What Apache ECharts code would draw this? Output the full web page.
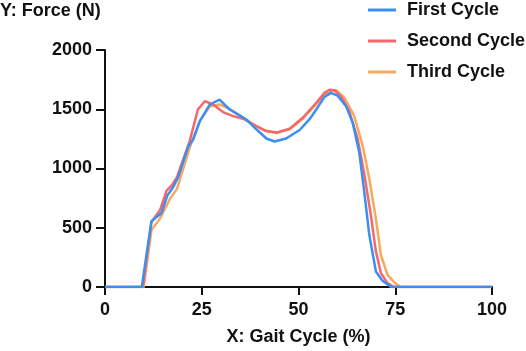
<!DOCTYPE html>
<html>
<head>
<meta charset="utf-8">
<script src="https://cdn.jsdelivr.net/npm/echarts@6/dist/echarts.min.js"></script>
<style>
  html, body { margin: 0; padding: 0; background: #fff; }
  #chart { width: 526px; height: 351px; }
</style>
</head>
<body>
<div id="chart"></div>
<script>
// gait cycle (%) and force (N) for each cycle
const xFirst = [0, 9.5, 12.0, 14.6, 16.1, 17.6, 18.9, 21.5, 22.8, 24.5, 27.1, 29.6, 32.2, 34.8, 36.5, 39.1, 41.7, 43.8, 46.8, 50.3, 52.8, 54.6, 56.7, 58.4, 60.1, 62.3, 64.0, 65.7, 67.0, 68.3, 70.0, 71.7, 73.9, 100];
const yFirst = [0, 0, 555, 625, 772, 842, 926, 1186, 1247, 1400, 1540, 1582, 1498, 1448, 1414, 1331, 1253, 1228, 1253, 1325, 1414, 1498, 1604, 1638, 1615, 1526, 1387, 1136, 801, 438, 131, 53, 0, 0];

const xSecond = [0, 9.8, 12.0, 14.2, 15.9, 17.2, 18.6, 21.9, 24.0, 25.8, 27.9, 30.5, 33.1, 35.7, 39.1, 41.7, 44.3, 47.7, 51.1, 54.6, 56.7, 58.0, 59.3, 61.0, 63.1, 65.3, 67.0, 68.7, 70.0, 71.3, 73.0, 74.7, 100];
const ySecond = [0, 0, 548, 647, 814, 856, 926, 1233, 1498, 1568, 1540, 1476, 1442, 1420, 1358, 1316, 1303, 1336, 1428, 1554, 1638, 1665, 1660, 1609, 1484, 1247, 954, 605, 299, 117, 33, 0, 0];

const xThird = [0, 10.0, 12.0, 14.2, 16.8, 18.6, 21.9, 24.5, 27.1, 29.6, 32.2, 35.7, 39.1, 41.7, 44.3, 47.7, 51.1, 54.6, 56.9, 58.5, 59.8, 61.9, 64.4, 66.6, 68.3, 70.0, 71.3, 73.0, 75.2, 76.5, 100];
const yThird = [0, 0, 480, 577, 745, 828, 1177, 1400, 1526, 1540, 1504, 1428, 1358, 1316, 1300, 1330, 1420, 1545, 1630, 1655, 1660, 1596, 1442, 1191, 912, 577, 270, 103, 25, 0, 0];

const seriesNames = ["First Cycle", "Second Cycle", "Third Cycle"];
const xTicks = [0, 25, 50, 75, 100];
const yTicks = [0, 500, 1000, 1500, 2000];

const font = "'Liberation Sans', Arial, sans-serif";
const colors = ["#3d8ef3", "#f4686b", "#f6a95e"];

function pairs(xs, ys) {
  return xs.map((x, i) => [x, ys[i]]);
}

const chart = echarts.init(document.getElementById("chart"));
chart.setOption({
  animation: false,
  textStyle: { fontFamily: font },
  graphic: [
    {
      type: "text",
      left: 0,
      top: 2,
      style: {
        text: "Y: Force (N)",
        font: "bold 18px " + font,
        fill: "#111",
      },
    },
  ],
  legend: {
    orient: "vertical",
    left: 363,
    top: -4,
    itemWidth: 28,
    itemHeight: 3,
    itemGap: 13,
    icon: "rect",
    data: seriesNames,
    textStyle: {
      color: "#111",
      fontSize: 18,
      fontWeight: "bold",
      fontFamily: font,
      padding: [0, 0, 0, 6],
    },
  },
  grid: {
    left: 105,
    right: 34,
    top: 50,
    bottom: 62,
  },
  xAxis: {
    type: "value",
    min: xTicks[0],
    max: xTicks[xTicks.length - 1],
    interval: 25,
    name: "X: Gait Cycle (%)",
    nameLocation: "middle",
    nameGap: 41,
    nameTextStyle: { color: "#111", fontSize: 18, fontWeight: "bold", fontFamily: font },
    axisLine: { lineStyle: { color: "#111", width: 2 } },
    axisTick: { show: true, length: 8, lineStyle: { color: "#111", width: 2 } },
    axisLabel: { color: "#111", fontSize: 18, fontWeight: "bold", margin: 14, fontFamily: font },
    splitLine: { show: false },
  },
  yAxis: {
    type: "value",
    min: yTicks[0],
    max: yTicks[yTicks.length - 1],
    interval: 500,
    axisLine: { show: true, lineStyle: { color: "#111", width: 2 } },
    axisTick: { show: true, length: 9, lineStyle: { color: "#111", width: 2 } },
    axisLabel: {
      color: "#111",
      fontSize: 18,
      fontWeight: "bold",
      margin: 13,
      fontFamily: font,
      formatter: (v) => String(v),
    },
    splitLine: { show: false },
  },
  series: [
    {
      name: seriesNames[0],
      type: "line",
      data: pairs(xFirst, yFirst),
      symbol: "none",
      z: 5,
      lineStyle: { color: colors[0], width: 2.5 },
      itemStyle: { color: colors[0] },
    },
    {
      name: seriesNames[1],
      type: "line",
      data: pairs(xSecond, ySecond),
      symbol: "none",
      z: 4,
      lineStyle: { color: colors[1], width: 2.5 },
      itemStyle: { color: colors[1] },
    },
    {
      name: seriesNames[2],
      type: "line",
      data: pairs(xThird, yThird),
      symbol: "none",
      z: 3,
      lineStyle: { color: colors[2], width: 2.5 },
      itemStyle: { color: colors[2] },
    },
  ],
});
</script>
</body>
</html>
